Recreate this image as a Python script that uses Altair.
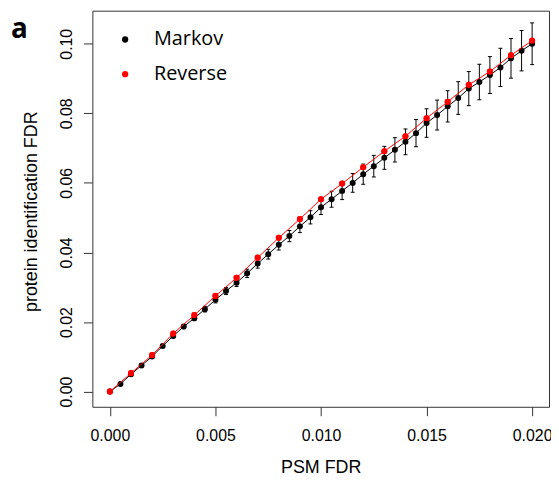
import altair as alt
import pandas as pd

# ---- data ----
psm_markov = [0.0, 0.0005, 0.001, 0.0015, 0.002, 0.0025, 0.003, 0.0035, 0.004, 0.0045,
              0.005, 0.0055, 0.006, 0.0065, 0.007, 0.0075, 0.008, 0.0085, 0.009, 0.0095,
              0.010, 0.0105, 0.011, 0.0115, 0.012, 0.0125, 0.013, 0.0135, 0.014, 0.0145,
              0.015, 0.0155, 0.016, 0.0165, 0.017, 0.0175, 0.018, 0.0185, 0.019, 0.0195, 0.020]
fdr_markov = [0.0, 0.0022, 0.0050, 0.0075, 0.0101, 0.0131, 0.0160, 0.0187, 0.0211, 0.0237,
              0.0264, 0.0289, 0.0313, 0.0340, 0.0368, 0.0395, 0.0422, 0.0447, 0.0475, 0.0501,
              0.0530, 0.0553, 0.0577, 0.0600, 0.0625, 0.0648, 0.0672, 0.0695, 0.0718, 0.0743,
              0.0772, 0.0795, 0.0820, 0.0844, 0.0871, 0.0890, 0.0910, 0.0932, 0.0958, 0.0980, 0.1000]
err_markov = [0.0, 0.0001, 0.00015, 0.0002, 0.0003, 0.0004, 0.0005, 0.0006, 0.0007, 0.0008,
              0.0009, 0.0010, 0.0011, 0.0012, 0.0013, 0.0014, 0.0015, 0.0016, 0.0018, 0.0019,
              0.0021, 0.0023, 0.0025, 0.0027, 0.0029, 0.0031, 0.0033, 0.0035, 0.0037, 0.0039,
              0.0041, 0.0043, 0.0045, 0.0047, 0.0049, 0.0051, 0.0053, 0.0055, 0.0057, 0.0058, 0.0060]

psm_reverse = [0.0, 0.001, 0.002, 0.003, 0.004, 0.005, 0.006, 0.007, 0.008, 0.009, 0.010,
               0.011, 0.012, 0.013, 0.014, 0.015, 0.016, 0.017, 0.018, 0.019, 0.020]
fdr_reverse = [0.0, 0.0053, 0.0105, 0.0167, 0.0220, 0.0275, 0.0327, 0.0385, 0.0442, 0.0496, 0.0553,
               0.0598, 0.0645, 0.0691, 0.0734, 0.0786, 0.0833, 0.0882, 0.0920, 0.0967, 0.1009]

series_names = ["Markov", "Reverse"]
series_colors = ["#000000", "#FF0000"]
x_ticks = [0.0, 0.005, 0.010, 0.015, 0.020]
y_ticks = [0.0, 0.02, 0.04, 0.06, 0.08, 0.10]
panel_label = ["a"]

markov = pd.DataFrame({
    "psm": psm_markov,
    "fdr": fdr_markov,
    "lo": [v - e for v, e in zip(fdr_markov, err_markov)],
    "hi": [v + e for v, e in zip(fdr_markov, err_markov)],
    "series": "Markov",
})
reverse = pd.DataFrame({"psm": psm_reverse, "fdr": fdr_reverse, "series": "Reverse"})
points = pd.concat([markov[["psm", "fdr", "series"]], reverse], ignore_index=True)

xs = alt.Scale(domain=[-0.00083, 0.0208], nice=False, zero=False)
ys = alt.Scale(domain=[-0.00437, 0.1095], nice=False, zero=False)

X = alt.X("psm:Q", scale=xs, title="PSM FDR",
          axis=alt.Axis(values=x_ticks, format=".3f", titleY=66, titleBaseline="alphabetic"))
Y = alt.Y("fdr:Q", scale=ys, title="protein identification FDR",
          axis=alt.Axis(values=y_ticks, format=".2f", labelAngle=270, labelAlign="center",
                        labelBaseline="alphabetic", labelPadding=12,
                        titleAngle=270, titleX=-56, titleY=202, titleAlign="center",
                        titleBaseline="alphabetic"))

base_m = alt.Chart(markov)

err = base_m.mark_rule(color="black", strokeWidth=1).encode(
    x=X, y=alt.Y("lo:Q", scale=ys), y2="hi:Q")
cap_hi = base_m.mark_rule(color="black", strokeWidth=1, xOffset=-2, x2Offset=2).encode(
    x=X, x2="psm:Q", y=alt.Y("hi:Q", scale=ys))
cap_lo = base_m.mark_rule(color="black", strokeWidth=1, xOffset=-2, x2Offset=2).encode(
    x=X, x2="psm:Q", y=alt.Y("lo:Q", scale=ys))
line_m = base_m.mark_line(color="black", strokeWidth=1).encode(x=X, y=Y)
line_r = alt.Chart(reverse).mark_line(color="#FF0000", strokeWidth=1).encode(x=X, y=Y)

pts = alt.Chart(points).mark_circle(size=36, opacity=1).encode(
    x=X, y=Y,
    color=alt.Color("series:N",
                    scale=alt.Scale(domain=series_names, range=series_colors),
                    legend=alt.Legend(title=None, orient="none", legendX=23, legendY=19,
                                      padding=0, labelFont="Open Sans", labelFontSize=20,
                                      labelColor="black", labelOffset=19, rowPadding=15,
                                      symbolSize=40, symbolType="circle",
                                      symbolStrokeWidth=0)),
    order=alt.Order("series:N"),
)
pts_r = alt.Chart(reverse).mark_circle(size=38, opacity=1, color="#FF0000").encode(x=X, y=Y)

label = alt.Chart(pd.DataFrame({"label": panel_label})).mark_text(
    font="Open Sans", fontSize=28, fontWeight="bold", color="black",
    align="left", baseline="alphabetic",
).encode(text="label:N", x=alt.value(-82), y=alt.value(28))

chart = alt.layer(err, cap_hi, cap_lo, line_m, pts, line_r, pts_r, label).properties(
    width=460, height=399,
    autosize=alt.AutoSizeParams(type="none"),
    padding={"left": 85, "top": 1, "right": 2, "bottom": 68},
).configure_view(stroke="#333333", strokeWidth=1).configure_axis(
    labelFont="Liberation Sans", labelFontSize=16, labelColor="black",
    titleFont="Liberation Sans", titleFontSize=18, titleColor="black", titleFontWeight="normal",
    tickColor="#333333", tickSize=9, domain=False, grid=False, labelPadding=12,
)

chart.save("out.html", embed_options={"renderer": "svg", "actions": False})
